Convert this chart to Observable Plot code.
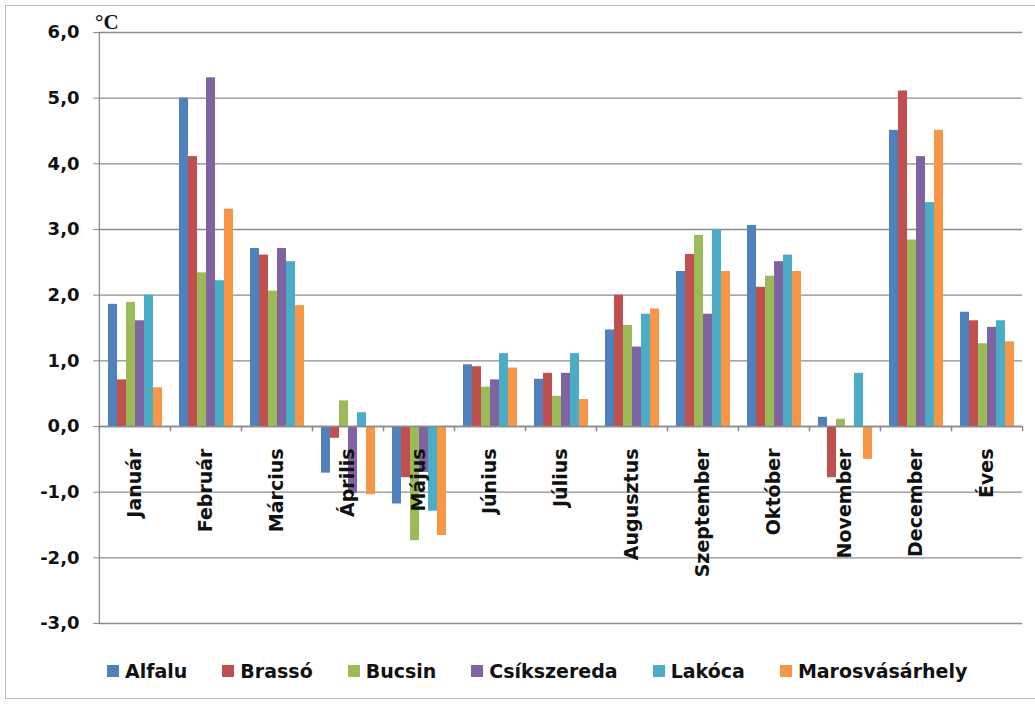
<!DOCTYPE html>
<html><head><meta charset="utf-8">
<script src="https://cdn.jsdelivr.net/npm/d3@7"></script>
<script src="https://cdn.jsdelivr.net/npm/@observablehq/plot@0.6"></script>
<style>
body{margin:0;background:#fff;}
#wrap{position:relative;width:1035px;height:704px;overflow:hidden;background:#fff;}
#frame{position:absolute;left:5px;top:5px;width:1040px;height:694px;border:1px solid #b8b8b8;box-sizing:border-box;}
#chart{position:absolute;left:0;top:0;}
#unit{position:absolute;left:95px;top:12px;font:bold 21px "Liberation Serif",serif;line-height:1;color:#111;}
#legend{position:absolute;top:660px;left:107px;display:flex;gap:35px;font:bold 19px "DejaVu Sans",sans-serif;color:#111;line-height:22px;}
#legend .it{display:flex;align-items:center;}
#legend .sw{width:12px;height:12px;margin-right:6px;}
</style>
</head><body>
<div id="wrap"><div id="frame"></div><div id="chart"></div><div id="unit">°C</div><div id="legend"></div></div>
<script>
const months = ["Január","Február","Március","Április","Május","Június","Július","Augusztus","Szeptember","Október","November","December","Éves"];
const series = ["Alfalu","Brassó","Bucsin","Csíkszereda","Lakóca","Marosvásárhely"];
const colors = ["#4F81BD","#C0504D","#9BBB59","#8064A2","#4BACC6","#F79646"];
const alfalu        = [1.86, 5.00, 2.71, -0.71, -1.18, 0.94, 0.72, 1.47, 2.36, 3.06, 0.14, 4.51, 1.74];
const brasso        = [0.71, 4.11, 2.61, -0.18, -0.78, 0.91, 0.81, 2.00, 2.62, 2.12, -0.78, 5.11, 1.61];
const bucsin        = [1.89, 2.34, 2.06, 0.39, -1.74, 0.60, 0.46, 1.54, 2.91, 2.29, 0.11, 2.84, 1.26];
const csikszereda   = [1.61, 5.31, 2.71, -1.02, -0.70, 0.71, 0.81, 1.21, 1.71, 2.51, 0.00, 4.11, 1.51];
const lakoca        = [2.00, 2.22, 2.51, 0.21, -1.29, 1.11, 1.11, 1.71, 3.00, 2.61, 0.81, 3.41, 1.61];
const marosvasarhely= [0.59, 3.31, 1.84, -1.04, -1.66, 0.89, 0.41, 1.79, 2.36, 2.36, -0.50, 4.51, 1.29];
const yTicks = [-3, -2, -1, 0, 1, 2, 3, 4, 5, 6];

const seriesValues = [alfalu, brasso, bucsin, csikszereda, lakoca, marosvasarhely];
const data = months.flatMap((m, i) => series.map((s, j) => ({month: m, series: s, value: seriesValues[j][i]})));

const W = 1035, H = 640, ML = 97, MR = 12, MT = 32, MB = 17;
const catW = (W - ML - MR) / months.length;
const grid = "#8c8c8c";

const chart = Plot.plot({
  width: W, height: H,
  marginLeft: ML, marginRight: MR, marginTop: MT, marginBottom: MB,
  style: {fontFamily: "DejaVu Sans, sans-serif", background: "transparent", overflow: "visible"},
  fx: {domain: months, padding: 0, axis: null},
  x: {domain: series, paddingInner: 0, paddingOuter: 0.75, axis: null},
  y: {domain: [-3, 6], axis: null},
  color: {domain: series, range: colors},
  marks: [
    Plot.gridY(yTicks, {stroke: grid, strokeOpacity: 1, strokeWidth: 1.3}),
    Plot.barY(data, {fx: "month", x: "series", y: "value", fill: "series"}),
    Plot.ruleY([0], {stroke: grid, strokeWidth: 1.3}),
    Plot.ruleX(months, {fx: d => d, x: null, y1: 0, y2: -0.08, dx: -catW / 2, stroke: grid, strokeWidth: 1.3}),
    Plot.ruleX(months, {fx: d => d, x: null, y1: 0, y2: -0.08, dx: catW / 2, stroke: grid, strokeWidth: 1.3}),
    Plot.ruleX([months[0]], {fx: d => d, x: null, y1: -3, y2: 6, dx: -catW / 2, stroke: grid, strokeWidth: 1.3}),
    Plot.text(months, {fx: d => d, y: 0, text: d => d, rotate: -90, textAnchor: "end", lineAnchor: "middle", dy: 22, fontSize: 19, fontWeight: "bold", fill: "#111"}),
    Plot.axisY(yTicks, {label: null, tickSize: 6, tickPadding: 14, tickFormat: d => d.toFixed(1).replace(".", ","), fontSize: 18, fontWeight: "bold", stroke: grid, fill: "#111"})
  ]
});
document.getElementById("chart").appendChild(chart);

const lg = document.getElementById("legend");
series.forEach((s, j) => {
  const it = document.createElement("div"); it.className = "it";
  const sw = document.createElement("div"); sw.className = "sw"; sw.style.background = colors[j];
  const t = document.createElement("span"); t.textContent = s;
  it.appendChild(sw); it.appendChild(t); lg.appendChild(it);
});
</script>
</body></html>
